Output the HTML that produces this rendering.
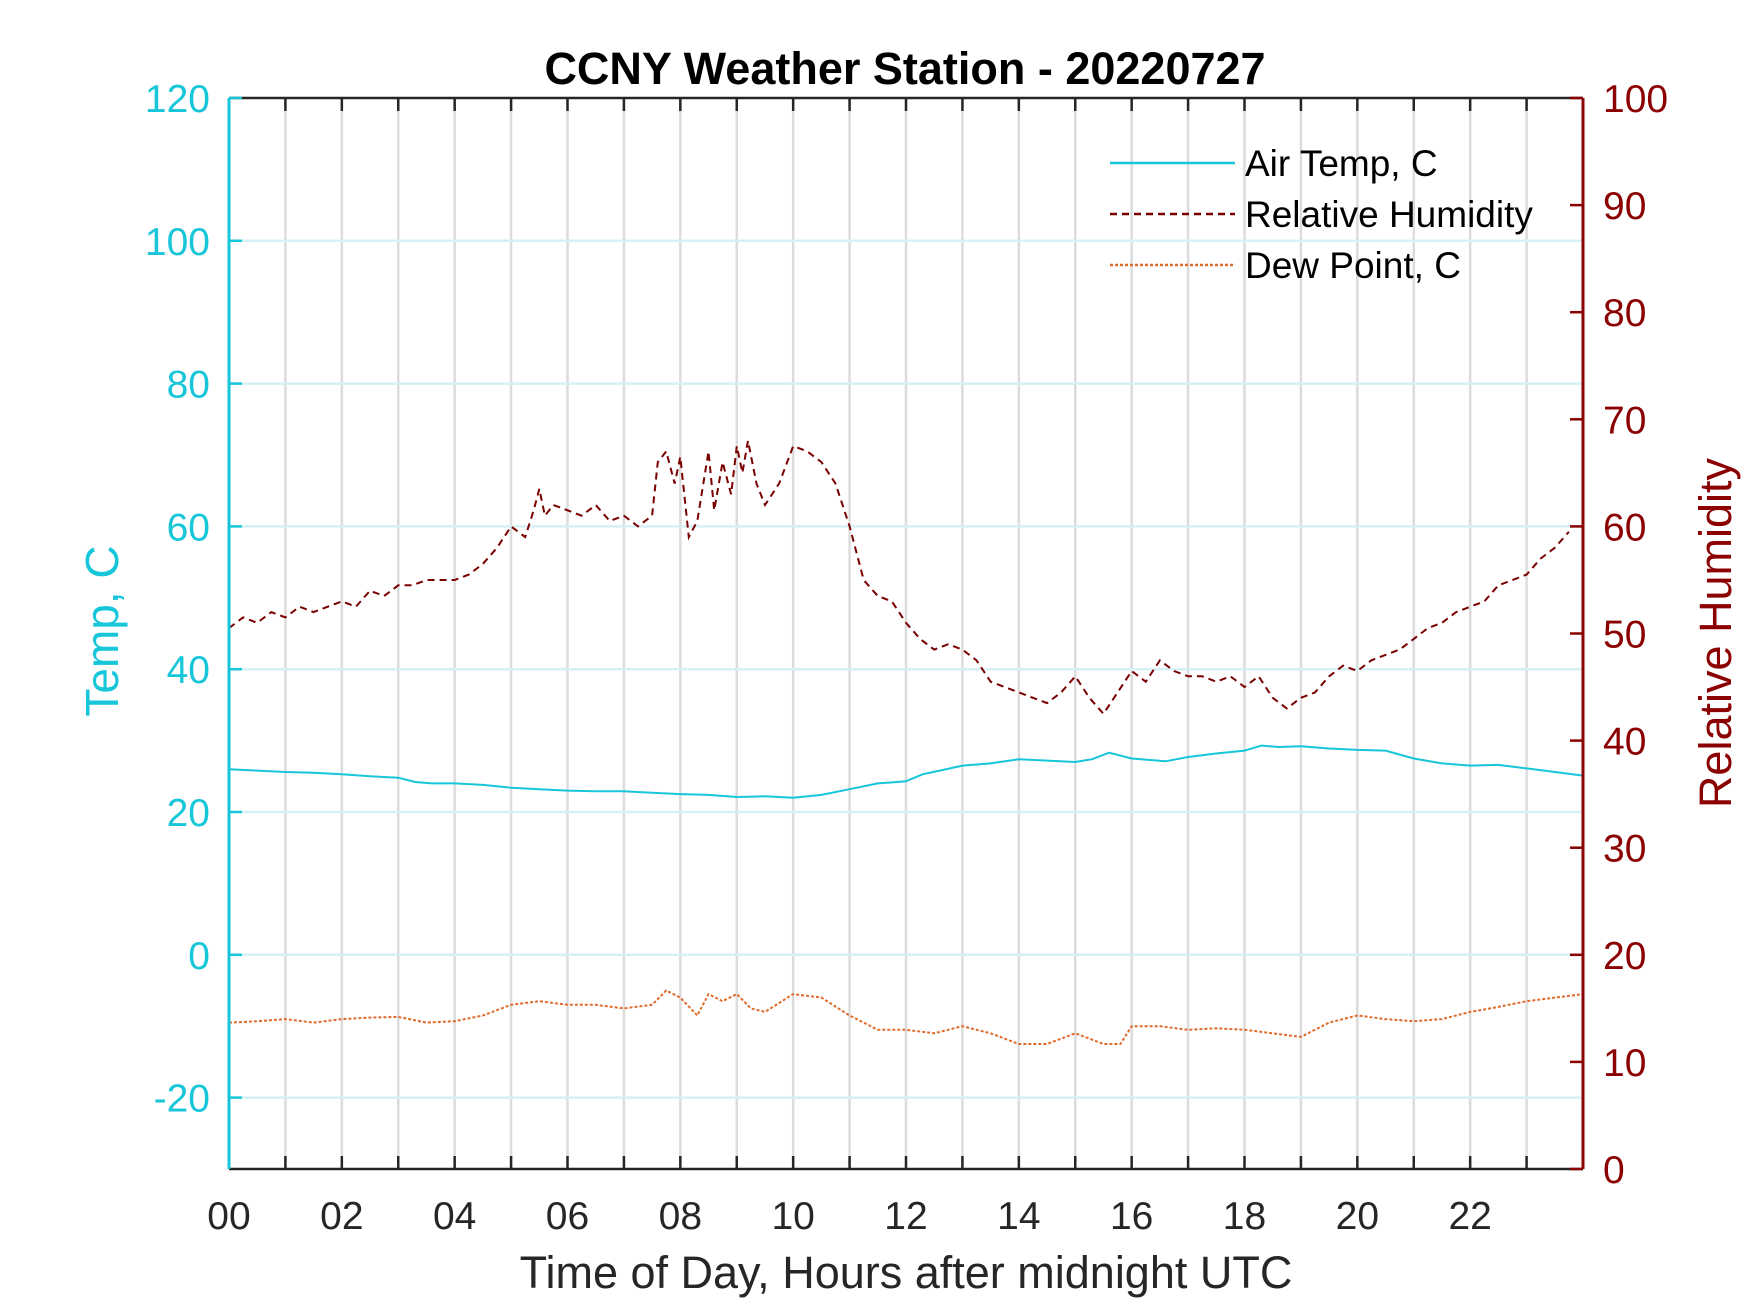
<!DOCTYPE html>
<html><head><meta charset="utf-8"><style>
html,body{margin:0;padding:0;background:#fff;width:1750px;height:1313px;overflow:hidden}
svg{display:block;font-family:"Liberation Sans",Arial,sans-serif}
</style></head><body>
<svg id="chart" width="1750" height="1313" viewBox="0 0 1750 1313"></svg>
<script>
const xTicks=[0,2,4,6,8,10,12,14,16,18,20,22];
const xTickLabels=["00","02","04","06","08","10","12","14","16","18","20","22"];
const tempTicks=[-20,0,20,40,60,80,100,120];
const rhTicks=[0,10,20,30,40,50,60,70,80,90,100];
const airTime=[0,0.5,1,1.5,2,2.5,3,3.3,3.6,4,4.5,5,5.5,6,6.5,7,7.5,8,8.5,9,9.5,10,10.5,11,11.5,12,12.3,12.6,13,13.5,14,14.5,15,15.3,15.6,16,16.3,16.6,17,17.5,18,18.3,18.6,19,19.5,20,20.5,21,21.5,22,22.5,23,23.5,24];
const airTemp=[26,25.8,25.6,25.5,25.3,25,24.8,24.2,24,24,23.8,23.4,23.2,23,22.9,22.9,22.7,22.5,22.4,22.1,22.2,22,22.4,23.2,24,24.3,25.3,25.8,26.5,26.8,27.4,27.2,27,27.4,28.3,27.5,27.3,27.1,27.7,28.2,28.6,29.3,29.1,29.2,28.9,28.7,28.6,27.5,26.8,26.5,26.6,26.1,25.6,25.1];
const rhTime=[0,0.25,0.5,0.75,1,1.25,1.5,1.75,2,2.25,2.5,2.75,3,3.25,3.5,3.75,4,4.25,4.5,4.75,5,5.25,5.4,5.5,5.6,5.75,6,6.25,6.5,6.75,7,7.25,7.5,7.6,7.75,7.9,8,8.15,8.3,8.5,8.6,8.75,8.9,9,9.1,9.2,9.35,9.5,9.75,10,10.25,10.5,10.75,11,11.25,11.5,11.75,12,12.25,12.5,12.75,13,13.25,13.5,13.75,14,14.25,14.5,14.75,15,15.25,15.5,15.75,16,16.25,16.5,16.75,17,17.25,17.5,17.75,18,18.25,18.5,18.75,19,19.25,19.5,19.75,20,20.25,20.5,20.75,21,21.25,21.5,21.75,22,22.25,22.5,22.75,23,23.25,23.5,23.75,24];
const rhVals=[50.5,51.5,51,52,51.5,52.5,52,52.5,53,52.5,54,53.5,54.5,54.5,55,55,55,55.5,56.5,58,60,59,61.5,63.5,61,62,61.5,61,62,60.5,61,60,61,66,67,64,66.5,59,60.5,67,61.5,66,63,67.5,65,68,64,62,64,67.5,67,66,64,60,55,53.5,53,51,49.5,48.5,49,48.5,47.5,45.5,45,44.5,44,43.5,44.5,46,44,42.5,44.5,46.5,45.5,47.5,46.5,46,46,45.5,46,45,46,44,43,44,44.5,46,47,46.5,47.5,48,48.5,49.5,50.5,51,52,52.5,53,54.5,55,55.5,57,58,59.5];
const dewTime=[0,0.5,1,1.5,2,2.5,3,3.5,4,4.5,5,5.5,6,6.5,7,7.5,7.75,8,8.3,8.5,8.75,9,9.25,9.5,10,10.5,11,11.5,12,12.5,13,13.5,14,14.5,15,15.5,15.8,16,16.5,17,17.5,18,18.5,19,19.5,20,20.5,21,21.5,22,22.5,23,23.5,24];
const dewVals=[-9.5,-9.3,-9,-9.5,-9,-8.8,-8.7,-9.5,-9.3,-8.5,-7,-6.5,-7,-7,-7.5,-7,-5,-6,-8.5,-5.5,-6.5,-5.5,-7.5,-8,-5.5,-6,-8.5,-10.5,-10.5,-11,-10,-11,-12.5,-12.5,-11,-12.5,-12.5,-10,-10,-10.5,-10.3,-10.5,-11,-11.5,-9.5,-8.5,-9,-9.3,-9,-8,-7.3,-6.5,-6,-5.5];

const L=229,R=1583,T=98,B=1169;
const xS=h=>L+(R-L)*h/24;
const yT=v=>B-(B-T)*(v+30)/150;
const yR=v=>B-(B-T)*v/100;
const svg=document.getElementById('chart');
const NS='http://www.w3.org/2000/svg';
function mk(tag,attrs,parent){const e=document.createElementNS(NS,tag);for(const k in attrs)e.setAttribute(k,attrs[k]);(parent||svg).appendChild(e);return e;}
function txt(s,attrs){const e=mk('text',attrs);e.textContent=s;return e;}

for(let h=1;h<24;h++){const g=mk('line',{x1:xS(h),x2:xS(h),y1:T,y2:B,stroke:'#dcdcdc','stroke-width':2.5});

}
tempTicks.forEach(v=>{if(v===120)return;const g=mk('line',{x1:L,x2:R,y1:yT(v),y2:yT(v),stroke:'#d6f1f5','stroke-width':2.5});

});

function series(ts,vs,yf,color,dash,w,name){
  let d='';ts.forEach((t,i)=>{d+=(i?'L':'M')+xS(t).toFixed(1)+' '+yf(vs[i]).toFixed(1);});
  const p=mk('path',{d:d,fill:'none',stroke:color,'stroke-width':w,'stroke-dasharray':dash});
  
  
}
series(airTime,airTemp,yT,'#17c6d8','none',2,'air-temp-line');
series(rhTime,rhVals,yR,'#7a0000','7 5',2,'relative-humidity-line');
series(dewTime,dewVals,yT,'#e06b2c','3 2',2,'dew-point-line');

const ax=mk('path',{d:`M${L} ${T}H${R}M${L} ${B}H${R}`,stroke:'#262626','stroke-width':2.5,fill:'none'});


const la=mk('line',{x1:L,x2:L,y1:T,y2:B,stroke:'#17c6d8','stroke-width':3});


const ra=mk('line',{x1:R,x2:R,y1:T,y2:B,stroke:'#8b0000','stroke-width':3});


for(let h=1;h<24;h++){
  const t1=mk('line',{x1:xS(h),x2:xS(h),y1:T,y2:T+13,stroke:'#262626','stroke-width':2.5});
  
  
  const t2=mk('line',{x1:xS(h),x2:xS(h),y1:B,y2:B-13,stroke:'#262626','stroke-width':2.5});
  
  
}
xTicks.forEach((h,i)=>{const t=txt(xTickLabels[i],{x:xS(h),y:1229,'text-anchor':'middle','font-size':39,fill:'#262626'});

});
tempTicks.forEach(v=>{
  const k=mk('line',{x1:L,x2:L+13,y1:yT(v),y2:yT(v),stroke:'#17c6d8','stroke-width':2.5});
  
  
  const t=txt(String(v),{x:210,y:yT(v)+14,'text-anchor':'end','font-size':39,fill:'#17c6d8'});
  
  
});
rhTicks.forEach(v=>{
  const k=mk('line',{x1:R,x2:R-13,y1:yR(v),y2:yR(v),stroke:'#8b0000','stroke-width':2.5});
  
  
  const t=txt(String(v),{x:1603,y:yR(v)+14,'font-size':39,fill:'#8b0000'});
  
  
});
</script>
<svg width="1750" height="1313" style="position:absolute;left:0;top:0">
<g font-family="Liberation Sans, Arial, sans-serif">
<text x="905" y="84" text-anchor="middle" font-size="45" font-weight="bold" fill="#000">CCNY Weather Station - 20220727</text>
<text x="906" y="1288" text-anchor="middle" font-size="45" fill="#262626">Time of Day, Hours after midnight UTC</text>
<text transform="translate(118,631) rotate(-90)" text-anchor="middle" font-size="46" fill="#17c6d8">Temp, C</text>
<text transform="translate(1731,633) rotate(-90)" text-anchor="middle" font-size="45" fill="#8b0000">Relative Humidity</text>
<g>
<line x1="1110" x2="1235" y1="163" y2="163" stroke="#17c6d8" stroke-width="2.5"/>
<text x="1245" y="176" font-size="37" fill="#000">Air Temp, C</text>
<line x1="1110" x2="1235" y1="214" y2="214" stroke="#7a0000" stroke-width="2.5" stroke-dasharray="7 5"/>
<text x="1245" y="227" font-size="37" fill="#000">Relative Humidity</text>
<line x1="1110" x2="1235" y1="265" y2="265" stroke="#e06b2c" stroke-width="2.5" stroke-dasharray="3 2"/>
<text x="1245" y="278" font-size="37" fill="#000">Dew Point, C</text>
</g></g></svg>
</body></html>
